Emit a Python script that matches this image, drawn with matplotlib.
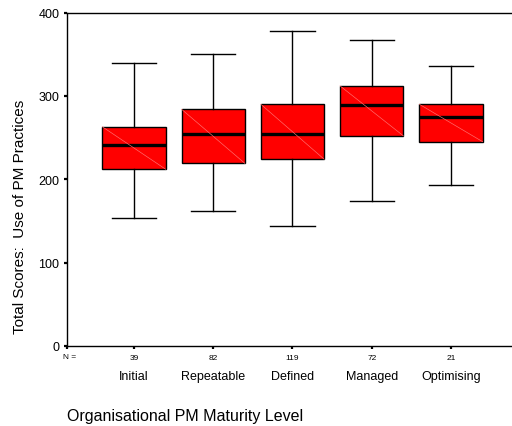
import matplotlib
matplotlib.use("Agg")
import matplotlib.pyplot as plt
from matplotlib import transforms

plt.rcParams['font.family'] = ['Liberation Sans', 'DejaVu Sans']

categories = ["Initial", "Repeatable", "Defined", "Managed", "Optimising"]
n_counts = [39, 82, 119, 72, 21]
whisker_low = [154, 162, 144, 174, 193]
q1 = [212, 219, 224, 252, 245]
median = [241, 254, 254, 289, 275]
q3 = [263, 284, 290, 312, 290]
whisker_high = [340, 350, 378, 367, 336]
y_ticks = [0, 100, 200, 300, 400]

fig = plt.figure(figsize=(5.12, 4.27), dpi=100)
W, H = 512, 427
left_px, right_px, top_px, bottom_px = 67, 512, 13.5, 347
ax = fig.add_axes([left_px / W, (H - bottom_px) / H,
                   (right_px - left_px) / W, (bottom_px - top_px) / H])

positions = list(range(1, len(categories) + 1))
stats = []
for i, c in enumerate(categories):
    stats.append(dict(label=c, whislo=whisker_low[i], q1=q1[i], med=median[i],
                      q3=q3[i], whishi=whisker_high[i], fliers=[]))

box_w = 0.8
ax.bxp(stats, positions=positions, widths=box_w, capwidths=0.56,
       showfliers=False, patch_artist=True,
       boxprops=dict(facecolor='#ff0000', edgecolor='black', linewidth=1.0),
       medianprops=dict(color='black', linewidth=2.4, solid_capstyle='butt'),
       whiskerprops=dict(color='black', linewidth=1.0),
       capprops=dict(color='black', linewidth=1.0))

# faint diagonal inside each box
for p, lo, hi in zip(positions, q1, q3):
    ax.plot([p - box_w / 2, p + box_w / 2], [hi, lo], color='#ff7373',
            linewidth=0.45, zorder=2.5)

x_left = 0.155
ax.set_xlim(x_left, 5.77)
ax.set_ylim(0, 400)
ax.set_yticks(y_ticks)
ax.set_yticklabels([str(v) for v in y_ticks], fontsize=9)
ax.set_xticks([x_left] + positions)
ax.set_xticklabels([""] + [str(n) for n in n_counts], fontsize=6)
ax.tick_params(axis='both', direction='out', length=2.5, width=1.6, color='black')
ax.tick_params(axis='y', pad=3)
ax.tick_params(axis='x', pad=3)

ax.spines['right'].set_visible(False)
for s in ['left', 'bottom', 'top']:
    ax.spines[s].set_linewidth(1.0)

trans = transforms.blended_transform_factory(ax.transData, ax.transAxes)
lbl0 = ax.get_xticklabels()[1]
ax.text(0.185, -0.032, "N =", transform=trans, ha='center', va='center',
        fontsize=6)
for p, c in zip(positions, categories):
    ax.text(p, -0.09, c, transform=trans, ha='center', va='center', fontsize=9)

fig.text(67 / W, (H - 417) / H, "Organisational PM Maturity Level",
         ha='left', va='center', fontsize=11.5)
fig.text(20 / W, (H - 217) / H, "Total Scores:  Use of PM Practices",
         rotation=90, ha='center', va='center', fontsize=11)

fig.savefig("out.png", dpi=100)
